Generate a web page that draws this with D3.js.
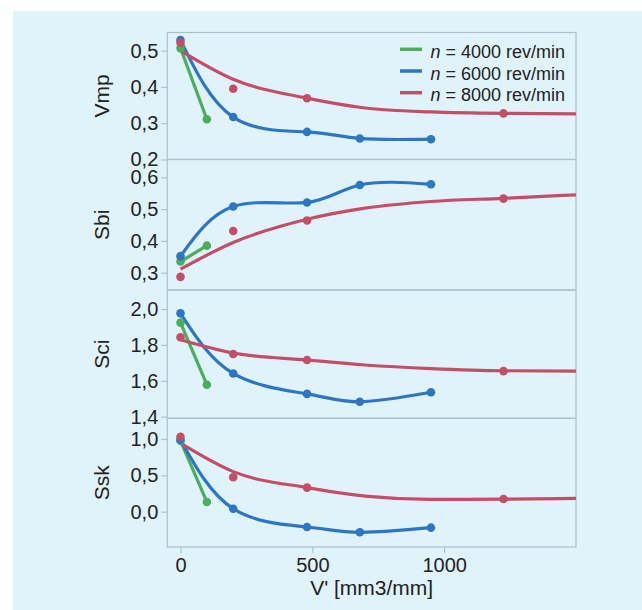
<!DOCTYPE html>
<html>
<head>
<meta charset="utf-8">
<style>
  body { margin: 0; background: #fff; }
  svg { display: block; }
</style>
</head>
<body>
<svg width="642" height="610" font-family="Liberation Sans, Arial, sans-serif"></svg>
<script src="https://cdn.jsdelivr.net/npm/d3@7"></script>
<script>

// measured x positions of the samples [mm3/mm]
var xGreen = [0, 100];
var xBlue = [0, 200, 480, 680, 950];
var xRed = [0, 200, 480, 1225];
var xRedFit = [0, 200, 480, 700, 950, 1225, 1500];

// Vmp
var vmpGreen = [0.507, 0.311];
var vmpBlue = [0.529, 0.317, 0.276, 0.258, 0.256];
var vmpRed = [0.522, 0.395, 0.369, 0.327];
var vmpRedFit = [0.500, 0.421, 0.369, 0.342, 0.331, 0.327, 0.326];

// Sbi
var sbiGreen = [0.335, 0.385];
var sbiBlue = [0.352, 0.508, 0.521, 0.576, 0.578];
var sbiRed = [0.287, 0.431, 0.464, 0.533];
var sbiRedFit = [0.311, 0.395, 0.468, 0.503, 0.524, 0.534, 0.545];

// Sci
var sciGreen = [1.924, 1.578];
var sciBlue = [1.976, 1.641, 1.527, 1.483, 1.536];
var sciRed = [1.843, 1.749, 1.716, 1.654];
var sciRedFit = [1.829, 1.755, 1.716, 1.688, 1.668, 1.656, 1.654];

// Ssk
var sskGreen = [0.975, 0.134];
var sskBlue = [0.99, 0.041, -0.211, -0.284, -0.22];
var sskRed = [1.032, 0.473, 0.331, 0.175];
var sskRedFit = [0.942, 0.551, 0.331, 0.215, 0.17, 0.172, 0.182];

var panelNames = ["Vmp", "Sbi", "Sci", "Ssk"];
var yTicks = [[0.2, 0.3, 0.4, 0.5], [0.3, 0.4, 0.5, 0.6], [1.4, 1.6, 1.8, 2.0], [0.0, 0.5, 1.0]];
var yDomains = [[0.2, 0.55], [0.2456, 0.656], [1.391, 2.106], [-0.486, 1.285]];
var xTicks = [0, 500, 1000];
var legendLabels = ["4000", "6000", "8000"];

var series = [
  [vmpGreen, vmpBlue, vmpRed, vmpRedFit],
  [sbiGreen, sbiBlue, sbiRed, sbiRedFit],
  [sciGreen, sciBlue, sciRed, sciRedFit],
  [sskGreen, sskBlue, sskRed, sskRedFit]
];

var green = "#4aae5c", blue = "#2c76c4", red = "#c44e68";
var frame = "#a9c2cd";

var svg = d3.select("svg");
svg.append("rect").attr("x", 13).attr("y", 11).attr("width", 629).attr("height", 599).attr("fill", "#e0f3fb");

var tops = [32.5, 159.5, 290, 418.3], bottoms = [159.5, 290, 418.3, 547];
var left = 167.3, right = 576;

var x = d3.scaleLinear().domain([-50, 1500]).range([left, right]);
var fmt = d3.formatLocale({decimal: ",", thousands: ".", grouping: [3], currency: ["", ""]}).format(".1f");

var clip = svg.append("clipPath").attr("id", "plotclip")
  .append("rect").attr("x", left).attr("y", tops[0]).attr("width", right - left).attr("height", bottoms[3] - tops[0]);

panelNames.forEach(function(name, i) {
  var y = d3.scaleLinear().domain(yDomains[i]).range([bottoms[i], tops[i]]);
  var g = svg.append("g");

  g.append("rect")
      .attr("x", left).attr("y", tops[i])
      .attr("width", right - left).attr("height", bottoms[i] - tops[i])
      .attr("fill", "none").attr("stroke", frame).attr("stroke-width", 1.2);

  var ay = g.append("g")
      .attr("transform", "translate(" + left + ",0)")
      .call(d3.axisLeft(y).tickValues(yTicks[i]).tickFormat(fmt).tickSize(6).tickPadding(3));
  ay.select(".domain").remove();
  ay.selectAll("line").attr("stroke", frame).attr("stroke-width", 1.2);
  ay.selectAll("text").attr("font-size", 20).attr("fill", "#222");

  g.append("text")
      .attr("transform", "translate(101.5," + ((tops[i] + bottoms[i]) / 2) + ") rotate(-90)")
      .attr("text-anchor", "middle").attr("dy", "0.35em")
      .attr("font-size", 21).attr("fill", "#222")
      .text(name);

  var s = series[i];
  var plot = g.append("g").attr("clip-path", "url(#plotclip)");

  var line = function(xs, curve) {
    return d3.line().x(function(d, k) { return x(xs[k]); }).y(function(d) { return y(d); }).curve(curve);
  };

  plot.append("path").datum(s[0]).attr("d", line(xGreen, d3.curveLinear))
      .attr("fill", "none").attr("stroke", green).attr("stroke-width", 3.2);
  plot.append("path").datum(s[1]).attr("d", line(xBlue, d3.curveNatural))
      .attr("fill", "none").attr("stroke", blue).attr("stroke-width", 3.2);
  plot.append("path").datum(s[3]).attr("d", line(xRedFit, d3.curveMonotoneX))
      .attr("fill", "none").attr("stroke", red).attr("stroke-width", 3.2);

  [[s[0], xGreen, green], [s[1], xBlue, blue], [s[2], xRed, red]].forEach(function(p) {
    plot.selectAll(null).data(p[0]).enter().append("circle")
        .attr("cx", function(d, k) { return x(p[1][k]); })
        .attr("cy", function(d) { return y(d); })
        .attr("r", 4.3).attr("fill", p[2]);
  });

  if (i === 3) {
    var ax = g.append("g")
        .attr("transform", "translate(0," + bottoms[i] + ")")
        .call(d3.axisBottom(x).tickValues(xTicks).tickFormat(d3.format("d")).tickSize(6).tickPadding(5));
    ax.select(".domain").remove();
    ax.selectAll("line").attr("stroke", frame).attr("stroke-width", 1.2);
    ax.selectAll("text").attr("font-size", 20).attr("fill", "#222");
  }
});

svg.append("text")
    .attr("x", (left + right) / 2).attr("y", 595)
    .attr("text-anchor", "middle").attr("font-size", 21).attr("fill", "#222")
    .text("V' [mm3/mm]");

var legend = svg.append("g");
[green, blue, red].forEach(function(c, k) {
  var ly = 49.3 + k * 21.7;
  legend.append("line").attr("x1", 400).attr("x2", 422).attr("y1", ly).attr("y2", ly)
      .attr("stroke", c).attr("stroke-width", 3.5);
  var t = legend.append("text").attr("x", 430.5).attr("y", ly + 8.5)
      .attr("font-size", 18).attr("fill", "#222");
  t.append("tspan").attr("font-style", "italic").text("n");
  t.append("tspan").text(" = " + legendLabels[k] + " rev/min");
});

</script>
</body>
</html>
